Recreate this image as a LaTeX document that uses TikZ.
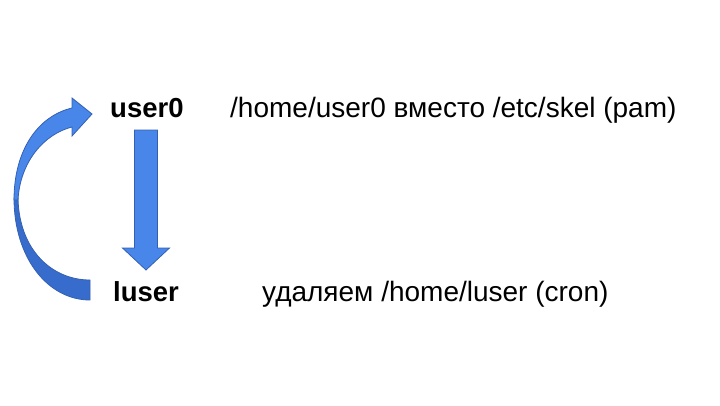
\documentclass[tikz,border=0pt]{standalone}
\usepackage{fontspec}
\setmainfont{Liberation Sans}
\definecolor{arrowblue}{RGB}{72,134,234}
\definecolor{arrowback}{RGB}{56,108,204}
\definecolor{arrowline}{RGB}{52,96,178}
\tikzset{
  username/.style={anchor=base west,inner sep=0pt,font=\fontsize{27.5}{30}\selectfont\bfseries},
  note/.style={anchor=base west,inner sep=0pt,font=\fontsize{28}{30}\selectfont},
  blockarrow/.style={fill=arrowblue,draw=arrowline,line width=0.8pt,line join=miter},
  backarrow/.style={fill=arrowback,draw=arrowline,line width=0.8pt}
}
\begin{document}
\begin{tikzpicture}[x=1pt,y=-1pt]
\useasboundingbox (0,0) rectangle (720,405);
% names
\node[username] (user0) at (110,117.5) {user0};
\node[username] (luser) at (113,301) {luser};
% notes
\node[note] (homenote) at (230,117.5) {/home/user0 вместо /etc/skel (pam)};
\node[note] (cronnote) at (262,301) {удаляем /home/luser (cron)};
% straight arrow user0 -> luser
\draw[blockarrow] (134.5,130)--(157.5,130)--(157.5,248)--(169.5,248)--(146,270)
  --(122.5,248)--(134.5,248)--cycle;
% curved arrow luser -> user0, back part
\draw[backarrow] (14,198) .. controls (14,258) and (48,300) .. (90,300)
  --(90,280) .. controls (52,280) and (19,250) .. (18,198)--cycle;
% curved arrow, front part with head
\draw[blockarrow] (14,200) .. controls (14,150) and (38,116) .. (72,108)
  --(72,98)--(92,114)--(72,136)--(72,127)
  .. controls (44,134) and (20,162) .. (18,200)--cycle;
\end{tikzpicture}
\end{document}
